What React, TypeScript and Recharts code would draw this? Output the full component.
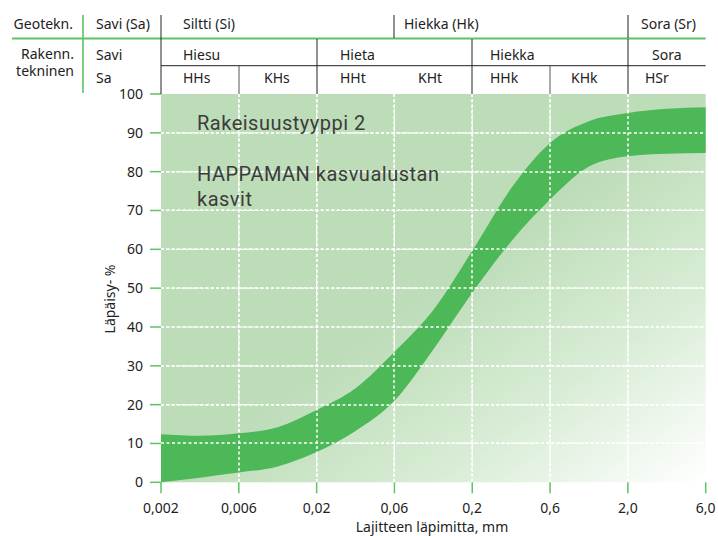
import React from 'react';
import { ComposedChart, Area, XAxis, YAxis, CartesianGrid } from 'recharts';

// ---- data ----
const xTickLabels = ['0,002', '0,006', '0,02', '0,06', '0,2', '0,6', '2,0', '6,0'];
const xTicks = [0, 1, 2, 3, 4, 5, 6, 7];
const yTicks = [0, 10, 20, 30, 40, 50, 60, 70, 80, 90, 100];
const gridX = [1, 2, 3, 4, 5, 6];
const gridY = [10, 20, 30, 40, 50, 60, 70, 80, 90];
const bandIndex = [0, 0.5, 1, 1.5, 2, 2.5, 3, 3.5, 4, 4.5, 5, 5.5, 6, 6.5, 7];
const upperPass = [12.4, 12.0, 12.6, 14.2, 18.6, 24.2, 33.6, 44.4, 59.6, 75.7, 87.4, 93, 95.1, 96.2, 96.6];
const lowerPass = [0, 1.2, 2.5, 4.1, 7.8, 13.2, 21, 34.2, 48.8, 62, 72.8, 81.3, 84.0, 84.6, 84.8];

const geoRow = [
  { label: 'Siltti (Si)', from: 0, to: 3 },
  { label: 'Hiekka (Hk)', from: 3, to: 6 },
  { label: 'Sora (Sr)', from: 6, to: 7 },
];
const rakRow = [
  { label: 'Hiesu', from: 0, to: 2 },
  { label: 'Hieta', from: 2, to: 4 },
  { label: 'Hiekka', from: 4, to: 6 },
  { label: 'Sora', from: 6, to: 7 },
];
const subRow = ['HHs', 'KHs', 'HHt', 'KHt', 'HHk', 'KHk', 'HSr'];
const titleLines = ['Rakeisuustyyppi 2', 'HAPPAMAN kasvualustan', 'kasvit'];

const data = bandIndex.map((i, k) => ({ i, band: [lowerPass[k], upperPass[k]] }));

// ---- layout ----
const W = 718;
const H = 536;
const PL = 161;
const PR = 705.7;
const PT = 94;
const PB = 482.3;
const px = (i: number) => Math.round(PL + (i * (PR - PL)) / 7);
const py = (v: number) => Math.round(PB - (v * (PB - PT)) / 100);

const FONT = '"Noto Sans", sans-serif';
const TXT = '#222';
const GREEN_LINE = '#5cc462';

const geoOffsets = [22, 10, 13];
const rakOffsets = [22, 23, 18, 24];
const subOffsets = [22, 25, 23, 24, 18, 21, 17];

function Header() {
  return (
    <svg
      width={W}
      height={H}
      viewBox={`0 0 ${W} ${H}`}
      style={{ position: 'absolute', left: 0, top: 0, pointerEvents: 'none', zIndex: 5 }}
    >
      {gridY.map((v) => (
        <line
          key={'gy' + v}
          x1={PL}
          x2={PR}
          y1={py(v)}
          y2={py(v)}
          stroke="#ffffff"
          strokeWidth={1.5}
          strokeDasharray="3 2.5"
        />
      ))}
      {gridX.map((v) => (
        <line
          key={'gx' + v}
          x1={px(v)}
          x2={px(v)}
          y1={PT}
          y2={PB}
          stroke="#ffffff"
          strokeWidth={1.5}
          strokeDasharray="3 2.5"
        />
      ))}
      <g fontFamily={FONT} fontSize={14} fill={TXT}>
        <text x={73} y={29} textAnchor="end">Geotekn.</text>
        <text x={96} y={29}>Savi (Sa)</text>
        {geoRow.map((g, k) => (
          <text key={g.label} x={px(g.from) + geoOffsets[k]} y={29}>{g.label}</text>
        ))}
        <text x={74} y={58.5} textAnchor="end">Rakenn.</text>
        <text x={74} y={75.5} textAnchor="end">tekninen</text>
        <text x={96} y={60}>Savi</text>
        <text x={96} y={83}>Sa</text>
        {rakRow.map((g, k) => (
          <text key={g.label} x={px(g.from) + rakOffsets[k]} y={60}>{g.label}</text>
        ))}
        {subRow.map((s, k) => (
          <text key={s} x={px(k) + subOffsets[k]} y={83}>{s}</text>
        ))}
      </g>
      <line x1={83} x2={83} y1={15} y2={93} stroke={GREEN_LINE} strokeWidth={1.6} />
      <line x1={12} x2={PR} y1={38.5} y2={38.5} stroke={GREEN_LINE} strokeWidth={1.8} />
      <line x1={PL} x2={PL} y1={15} y2={PT} stroke="#222" strokeWidth={1} />
      {geoRow.slice(1).map((g) => (
        <line key={g.label} x1={px(g.from)} x2={px(g.from)} y1={15} y2={38} stroke="#222" strokeWidth={1} />
      ))}
      {rakRow.slice(1).map((g) => (
        <line key={g.label} x1={px(g.from)} x2={px(g.from)} y1={39} y2={PT} stroke="#222" strokeWidth={1} />
      ))}
      <line x1={PL} x2={PR} y1={65.7} y2={65.7} stroke="#222" strokeWidth={1} />
      {[1, 5].map((i) => (
        <line key={i} x1={px(i)} x2={px(i)} y1={66} y2={PT} stroke="#555" strokeWidth={1} />
      ))}
      <g fontFamily="Roboto, sans-serif" fontSize={20} fill="#3c3c3c" letterSpacing={0.5}>
        <text x={197} y={129.5}>{titleLines[0]}</text>
        <text x={197} y={181}>{titleLines[1]}</text>
        <text x={197} y={206}>{titleLines[2]}</text>
      </g>
      <text x={432} y={532} textAnchor="middle" fontFamily={FONT} fontSize={14} fill={TXT}>
        Lajitteen läpimitta, mm
      </text>
      <text
        x={115}
        y={299}
        textAnchor="middle"
        transform="rotate(-90 115 299)"
        fontFamily={FONT}
        fontSize={14}
        fill={TXT}
      >
        Läpäisy- %
      </text>
    </svg>
  );
}

export default function App() {
  return (
    <div style={{ position: 'absolute', left: 0, top: 0, width: W, height: H, background: '#fff' }}>
      <ComposedChart
        width={W}
        height={H}
        data={data}
        margin={{ top: PT, right: W - PR, bottom: 0, left: 0 }}
      >
        <defs>
          <linearGradient id="bgGrad" x1="0" y1="0" x2="1" y2="1">
            <stop offset="0" stopColor="#bddcb8" />
            <stop offset="0.5" stopColor="#bddcb8" />
            <stop offset="0.75" stopColor="#d9edd6" />
            <stop offset="1" stopColor="#ffffff" />
          </linearGradient>
        </defs>
        <CartesianGrid
          fill="url(#bgGrad)"
          fillOpacity={1}
          stroke="#ffffff"
          strokeWidth={1.2}
          strokeDasharray="3 2"
          horizontalValues={gridY}
          verticalValues={gridX}
        />
        <XAxis
          type="number"
          dataKey="i"
          domain={[0, 7]}
          ticks={xTicks}
          tickFormatter={(v: number) => xTickLabels[v]}
          height={H - PB}
          axisLine={false}
          tickLine={{ stroke: GREEN_LINE, strokeWidth: 1.5 }}
          tickSize={11}
          tickMargin={10}
          tick={{ fill: TXT, fontSize: 14, fontFamily: FONT }}
          interval={0}
          allowDecimals
        />
        <YAxis
          type="number"
          domain={[0, 100]}
          ticks={yTicks}
          width={PL}
          axisLine={false}
          tickLine={{ stroke: GREEN_LINE, strokeWidth: 1.5 }}
          tickSize={11}
          tickMargin={7}
          tick={{ fill: TXT, fontSize: 14, fontFamily: FONT }}
          interval={0}
        />
        <Area
          type="monotone"
          dataKey="band"
          fill="#4cb857"
          fillOpacity={1}
          stroke="none"
          isAnimationActive={false}
          dot={false}
          activeDot={false}
        />
      </ComposedChart>
      <Header />
    </div>
  );
}
